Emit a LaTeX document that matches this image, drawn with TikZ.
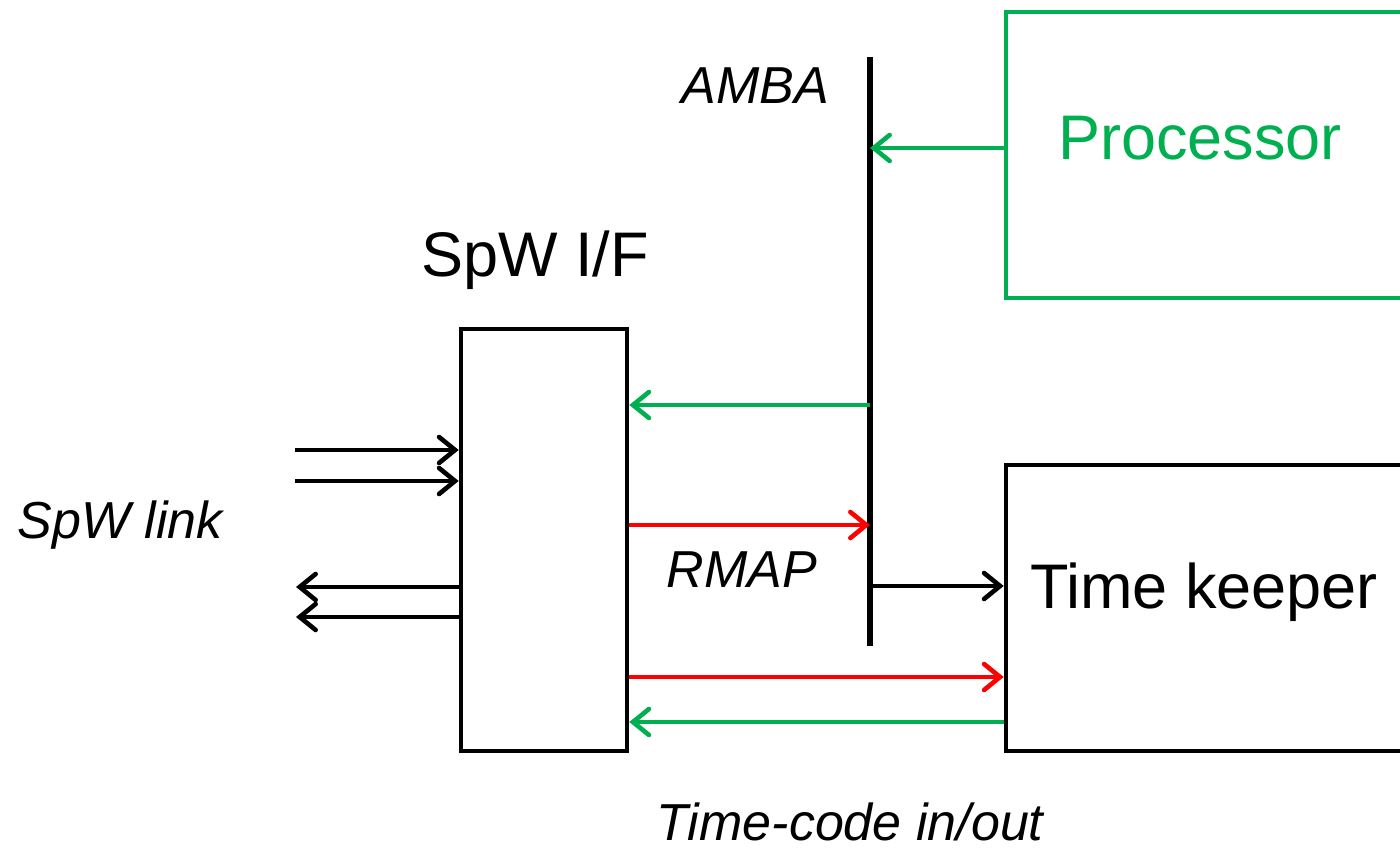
\documentclass[tikz,border=0pt]{standalone}
\usepackage{fontspec}
\setmainfont{Liberation Sans}
\usetikzlibrary{arrows.meta}
\definecolor{procgreen}{RGB}{0,176,80}
\definecolor{rmapred}{RGB}{255,0,0}
\tikzset{
  blk/.style={draw,line width=2.3pt,inner sep=0pt},
  sig/.style={line width=2.3pt,-{Straight Barb[length=8pt,width=13pt,line cap=round]}},
  lbl/.style={font=\fontsize{26}{31}\selectfont\itshape},
  big/.style={font=\fontsize{31.5}{38}\selectfont},
}
\begin{document}
\begin{tikzpicture}[x=0.5pt,y=-0.5pt]
\useasboundingbox (0,0) rectangle (1400,849);
\clip (0,0) rectangle (1400,849);

% blocks
\node[blk,minimum width=83pt,minimum height=211pt] (spw) at (544,540) {};
\node[blk,procgreen,minimum width=212pt,minimum height=143pt] (proc) at (1218,155) {};
\node[blk,minimum width=212pt,minimum height=143pt] (tk) at (1218,608) {};
\node[big] (spwtext) at (535,260) {SpW I/F};
\node[big,procgreen] (proctext) at (1200,138) {Processor};
\node[big] (tktext) at (1204,592) {Time keeper};

% AMBA bus
\coordinate (ambatop) at (870,57);
\coordinate (ambabot) at (870,646);
\draw[line width=2.8pt] (ambatop) -- (ambabot);

% labels
\node[lbl] (ambatext) at (755,86) {AMBA};
\node[lbl] (rmaptext) at (742,570) {RMAP};
\node[lbl] (linktext) at (120,525) {SpW link};
\node[lbl] (tctext) at (850,822) {Time-code in/out};

% connectors
\draw[sig,procgreen] (proc.west |- 0,148) -- (ambatop |- 0,148);
\draw[sig,procgreen] (ambatop |- 0,405) -- (spw.east |- 0,405);
\draw[sig,rmapred] (spw.east |- 0,525) -- (ambatop |- 0,525);
\draw[sig] (ambatop |- 0,586) -- (tk.west |- 0,586);
\draw[sig,rmapred] (spw.east |- 0,677) -- (tk.west |- 0,677);
\draw[sig,procgreen] (tk.west |- 0,722) -- (spw.east |- 0,722);

% SpW link
\coordinate (in1) at (295,450);
\coordinate (in2) at (295,481);
\coordinate (out1) at (296,587);
\coordinate (out2) at (296,617);
\foreach \c in {in1,in2} \draw[sig] (\c) -- (spw.west |- \c);
\foreach \c in {out1,out2} \draw[sig] (spw.west |- \c) -- (\c);
\end{tikzpicture}
\end{document}
